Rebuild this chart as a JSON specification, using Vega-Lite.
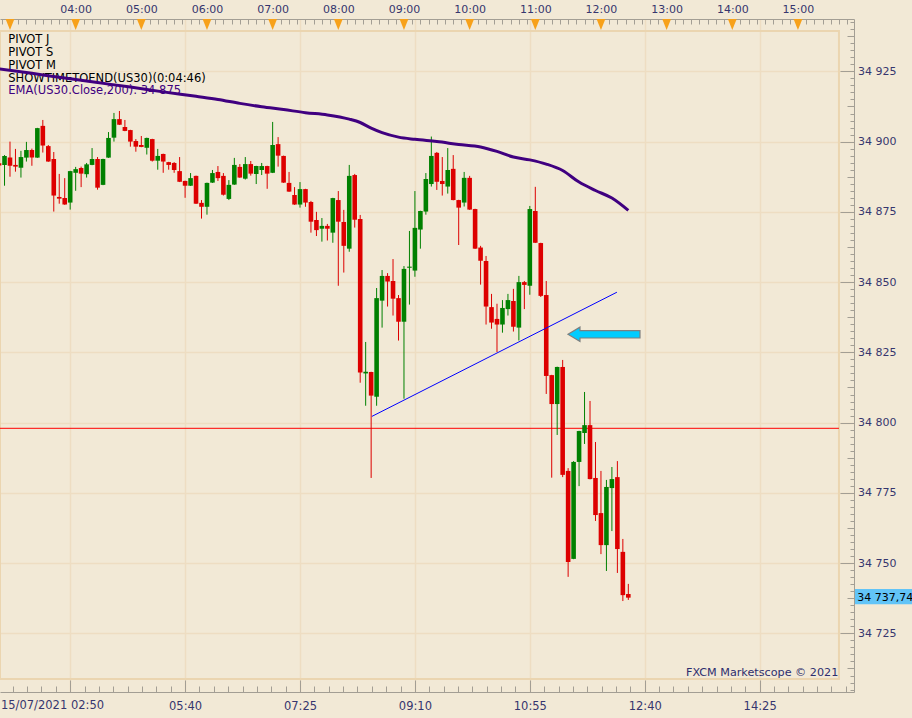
{
  "$schema": "https://vega.github.io/schema/vega-lite/v6.json",
  "width": 854,
  "height": 673,
  "autosize": "none",
  "padding": {"left": 0, "top": 19, "right": 58, "bottom": 26},
  "background": "#F2E9D6",
  "view": {"stroke": null},
  "config": {
    "axis": {"labelFont": "DejaVu Sans", "labelFontSize": 11, "labelColor": "#36366E", "domainColor": "#A39E94", "tickColor": "#A39E94", "domainWidth": 1, "tickWidth": 1, "labelOverlap": false, "labelFlush": false, "labelBound": false, "gridColor": "#EEDDC2", "gridWidth": 1.5}
  },
  "datasets": {
    "candles": [
      {"t":"2021-07-15T02:50","o":34892.3,"h":34893.0,"l":34891.0,"c":34891.5},
      {"t":"2021-07-15T02:55","o":34891.7,"h":34895.2,"l":34884.3,"c":34894.9},
      {"t":"2021-07-15T03:00","o":34894.3,"h":34900.0,"l":34887.5,"c":34891.4},
      {"t":"2021-07-15T03:05","o":34891.7,"h":34897.4,"l":34889.3,"c":34891.1},
      {"t":"2021-07-15T03:10","o":34890.7,"h":34896.7,"l":34887.2,"c":34894.5},
      {"t":"2021-07-15T03:15","o":34894.3,"h":34899.9,"l":34892.9,"c":34897.0},
      {"t":"2021-07-15T03:20","o":34897.0,"h":34897.5,"l":34891.4,"c":34894.3},
      {"t":"2021-07-15T03:25","o":34894.3,"h":34904.9,"l":34894.2,"c":34904.8},
      {"t":"2021-07-15T03:30","o":34905.6,"h":34907.7,"l":34896.1,"c":34898.6},
      {"t":"2021-07-15T03:35","o":34898.4,"h":34898.8,"l":34892.8,"c":34892.9},
      {"t":"2021-07-15T03:40","o":34893.8,"h":34896.3,"l":34875.1,"c":34880.8},
      {"t":"2021-07-15T03:45","o":34880.3,"h":34888.5,"l":34877.9,"c":34879.7},
      {"t":"2021-07-15T03:50","o":34879.9,"h":34887.0,"l":34877.5,"c":34877.6},
      {"t":"2021-07-15T03:55","o":34878.3,"h":34889.6,"l":34875.8,"c":34889.5},
      {"t":"2021-07-15T04:00","o":34888.9,"h":34891.0,"l":34882.5,"c":34890.2},
      {"t":"2021-07-15T04:05","o":34890.6,"h":34891.1,"l":34883.8,"c":34888.6},
      {"t":"2021-07-15T04:10","o":34888.4,"h":34892.4,"l":34887.2,"c":34891.9},
      {"t":"2021-07-15T04:15","o":34891.7,"h":34897.7,"l":34891.6,"c":34893.8},
      {"t":"2021-07-15T04:20","o":34893.8,"h":34894.5,"l":34882.9,"c":34883.6},
      {"t":"2021-07-15T04:25","o":34884.6,"h":34893.9,"l":34884.5,"c":34893.8},
      {"t":"2021-07-15T04:30","o":34894.3,"h":34903.4,"l":34894.2,"c":34901.3},
      {"t":"2021-07-15T04:35","o":34901.4,"h":34910.2,"l":34900.0,"c":34908.0},
      {"t":"2021-07-15T04:40","o":34908.0,"h":34910.9,"l":34905.9,"c":34906.0},
      {"t":"2021-07-15T04:45","o":34905.2,"h":34907.7,"l":34903.7,"c":34903.8},
      {"t":"2021-07-15T04:50","o":34904.1,"h":34904.2,"l":34898.2,"c":34900.0},
      {"t":"2021-07-15T04:55","o":34900.2,"h":34900.9,"l":34896.4,"c":34898.2},
      {"t":"2021-07-15T05:00","o":34898.8,"h":34902.0,"l":34898.0,"c":34898.1},
      {"t":"2021-07-15T05:05","o":34897.8,"h":34901.4,"l":34895.4,"c":34901.3},
      {"t":"2021-07-15T05:10","o":34900.9,"h":34901.0,"l":34892.9,"c":34893.2},
      {"t":"2021-07-15T05:15","o":34893.2,"h":34897.4,"l":34890.0,"c":34894.9},
      {"t":"2021-07-15T05:20","o":34895.6,"h":34895.7,"l":34888.9,"c":34892.9},
      {"t":"2021-07-15T05:25","o":34892.7,"h":34892.8,"l":34890.0,"c":34891.7},
      {"t":"2021-07-15T05:30","o":34892.4,"h":34892.7,"l":34888.9,"c":34889.9},
      {"t":"2021-07-15T05:35","o":34889.5,"h":34894.5,"l":34885.6,"c":34885.7},
      {"t":"2021-07-15T05:40","o":34886.0,"h":34886.1,"l":34880.0,"c":34884.3},
      {"t":"2021-07-15T05:45","o":34884.3,"h":34888.8,"l":34884.2,"c":34887.0},
      {"t":"2021-07-15T05:50","o":34887.8,"h":34887.9,"l":34877.8,"c":34877.9},
      {"t":"2021-07-15T05:55","o":34878.2,"h":34879.2,"l":34872.6,"c":34876.8},
      {"t":"2021-07-15T06:00","o":34876.8,"h":34885.4,"l":34874.0,"c":34885.3},
      {"t":"2021-07-15T06:05","o":34885.4,"h":34889.9,"l":34885.3,"c":34888.8},
      {"t":"2021-07-15T06:10","o":34889.2,"h":34891.3,"l":34886.0,"c":34887.0},
      {"t":"2021-07-15T06:15","o":34887.8,"h":34888.8,"l":34880.8,"c":34881.1},
      {"t":"2021-07-15T06:20","o":34879.6,"h":34886.3,"l":34879.2,"c":34884.6},
      {"t":"2021-07-15T06:25","o":34884.7,"h":34894.2,"l":34884.6,"c":34891.7},
      {"t":"2021-07-15T06:30","o":34891.0,"h":34892.0,"l":34887.1,"c":34887.2},
      {"t":"2021-07-15T06:35","o":34886.8,"h":34894.5,"l":34886.5,"c":34892.0},
      {"t":"2021-07-15T06:40","o":34892.0,"h":34893.1,"l":34887.9,"c":34888.6},
      {"t":"2021-07-15T06:45","o":34888.5,"h":34891.4,"l":34884.9,"c":34891.3},
      {"t":"2021-07-15T06:50","o":34889.9,"h":34892.4,"l":34888.1,"c":34891.3},
      {"t":"2021-07-15T06:55","o":34891.3,"h":34891.4,"l":34883.2,"c":34888.6},
      {"t":"2021-07-15T07:00","o":34888.9,"h":34907.0,"l":34888.8,"c":34898.8},
      {"t":"2021-07-15T07:05","o":34899.1,"h":34901.6,"l":34891.1,"c":34895.0},
      {"t":"2021-07-15T07:10","o":34894.9,"h":34895.0,"l":34885.3,"c":34885.4},
      {"t":"2021-07-15T07:15","o":34885.3,"h":34889.2,"l":34882.1,"c":34882.2},
      {"t":"2021-07-15T07:20","o":34881.0,"h":34883.8,"l":34877.5,"c":34877.6},
      {"t":"2021-07-15T07:25","o":34877.6,"h":34885.6,"l":34876.5,"c":34883.1},
      {"t":"2021-07-15T07:30","o":34883.1,"h":34883.2,"l":34876.8,"c":34878.3},
      {"t":"2021-07-15T07:35","o":34878.5,"h":34878.9,"l":34867.6,"c":34871.5},
      {"t":"2021-07-15T07:40","o":34872.1,"h":34875.0,"l":34866.4,"c":34868.5},
      {"t":"2021-07-15T07:45","o":34869.0,"h":34872.8,"l":34864.4,"c":34870.0},
      {"t":"2021-07-15T07:50","o":34870.0,"h":34870.7,"l":34864.8,"c":34869.0},
      {"t":"2021-07-15T07:55","o":34867.6,"h":34880.0,"l":34864.0,"c":34879.9},
      {"t":"2021-07-15T08:00","o":34879.2,"h":34882.4,"l":34848.7,"c":34871.5},
      {"t":"2021-07-15T08:05","o":34871.4,"h":34875.7,"l":34853.4,"c":34862.9},
      {"t":"2021-07-15T08:10","o":34861.9,"h":34891.7,"l":34860.8,"c":34887.8},
      {"t":"2021-07-15T08:15","o":34888.1,"h":34888.5,"l":34869.4,"c":34872.2},
      {"t":"2021-07-15T08:20","o":34872.5,"h":34873.9,"l":34814.2,"c":34817.8},
      {"t":"2021-07-15T08:25","o":34817.5,"h":34828.7,"l":34806.0,"c":34818.1},
      {"t":"2021-07-15T08:30","o":34818.0,"h":34818.1,"l":34780.3,"c":34809.6},
      {"t":"2021-07-15T08:35","o":34809.2,"h":34847.9,"l":34806.0,"c":34844.3},
      {"t":"2021-07-15T08:40","o":34843.4,"h":34854.3,"l":34833.8,"c":34852.2},
      {"t":"2021-07-15T08:45","o":34852.2,"h":34853.2,"l":34841.3,"c":34850.2},
      {"t":"2021-07-15T08:50","o":34850.4,"h":34858.2,"l":34838.1,"c":34844.1},
      {"t":"2021-07-15T08:55","o":34844.3,"h":34845.4,"l":34829.2,"c":34835.9},
      {"t":"2021-07-15T09:00","o":34835.9,"h":34855.7,"l":34808.5,"c":34854.7},
      {"t":"2021-07-15T09:05","o":34855.1,"h":34868.2,"l":34842.0,"c":34855.5},
      {"t":"2021-07-15T09:10","o":34854.1,"h":34882.4,"l":34851.9,"c":34869.3},
      {"t":"2021-07-15T09:15","o":34868.7,"h":34875.4,"l":34861.9,"c":34875.3},
      {"t":"2021-07-15T09:20","o":34875.1,"h":34888.8,"l":34874.0,"c":34886.7},
      {"t":"2021-07-15T09:25","o":34884.9,"h":34901.8,"l":34884.0,"c":34894.9},
      {"t":"2021-07-15T09:30","o":34896.0,"h":34896.3,"l":34882.8,"c":34885.7},
      {"t":"2021-07-15T09:35","o":34886.0,"h":34894.5,"l":34880.8,"c":34884.9},
      {"t":"2021-07-15T09:40","o":34884.0,"h":34897.7,"l":34881.5,"c":34889.9},
      {"t":"2021-07-15T09:45","o":34890.3,"h":34895.2,"l":34879.1,"c":34879.2},
      {"t":"2021-07-15T09:50","o":34879.2,"h":34879.3,"l":34863.2,"c":34876.5},
      {"t":"2021-07-15T09:55","o":34878.3,"h":34889.2,"l":34876.9,"c":34887.1},
      {"t":"2021-07-15T10:00","o":34887.1,"h":34887.8,"l":34875.7,"c":34875.8},
      {"t":"2021-07-15T10:05","o":34876.0,"h":34876.1,"l":34861.8,"c":34861.9},
      {"t":"2021-07-15T10:10","o":34862.3,"h":34862.9,"l":34849.1,"c":34857.6},
      {"t":"2021-07-15T10:15","o":34857.5,"h":34859.3,"l":34834.9,"c":34841.3},
      {"t":"2021-07-15T10:20","o":34841.1,"h":34845.8,"l":34833.4,"c":34835.6},
      {"t":"2021-07-15T10:25","o":34836.9,"h":34842.3,"l":34825.1,"c":34834.9},
      {"t":"2021-07-15T10:30","o":34834.9,"h":34843.6,"l":34832.0,"c":34840.8},
      {"t":"2021-07-15T10:35","o":34840.4,"h":34845.8,"l":34838.1,"c":34843.6},
      {"t":"2021-07-15T10:40","o":34843.3,"h":34847.6,"l":34832.4,"c":34834.1},
      {"t":"2021-07-15T10:45","o":34833.8,"h":34852.2,"l":34829.2,"c":34850.0},
      {"t":"2021-07-15T10:50","o":34850.0,"h":34850.4,"l":34840.4,"c":34849.0},
      {"t":"2021-07-15T10:55","o":34848.7,"h":34877.1,"l":34845.5,"c":34876.0},
      {"t":"2021-07-15T11:00","o":34875.3,"h":34883.9,"l":34863.9,"c":34864.0},
      {"t":"2021-07-15T11:05","o":34863.9,"h":34864.0,"l":34844.7,"c":34845.1},
      {"t":"2021-07-15T11:10","o":34845.4,"h":34850.4,"l":34810.2,"c":34816.6},
      {"t":"2021-07-15T11:15","o":34816.9,"h":34817.0,"l":34780.4,"c":34806.6},
      {"t":"2021-07-15T11:20","o":34806.6,"h":34819.9,"l":34795.6,"c":34819.8},
      {"t":"2021-07-15T11:25","o":34819.8,"h":34822.3,"l":34780.6,"c":34781.4},
      {"t":"2021-07-15T11:30","o":34782.8,"h":34783.8,"l":34745.1,"c":34750.4},
      {"t":"2021-07-15T11:35","o":34751.5,"h":34786.3,"l":34751.4,"c":34786.0},
      {"t":"2021-07-15T11:40","o":34786.0,"h":34797.1,"l":34777.4,"c":34797.0},
      {"t":"2021-07-15T11:45","o":34796.3,"h":34810.9,"l":34792.4,"c":34799.1},
      {"t":"2021-07-15T11:50","o":34799.1,"h":34807.7,"l":34779.8,"c":34779.9},
      {"t":"2021-07-15T11:55","o":34780.3,"h":34793.1,"l":34765.0,"c":34767.1},
      {"t":"2021-07-15T12:00","o":34767.8,"h":34782.8,"l":34753.2,"c":34756.4},
      {"t":"2021-07-15T12:05","o":34756.4,"h":34779.6,"l":34747.2,"c":34777.1},
      {"t":"2021-07-15T12:10","o":34776.7,"h":34784.2,"l":34761.4,"c":34779.9},
      {"t":"2021-07-15T12:15","o":34780.6,"h":34786.3,"l":34746.5,"c":34755.0},
      {"t":"2021-07-15T12:20","o":34754.0,"h":34758.6,"l":34736.5,"c":34738.6},
      {"t":"2021-07-15T12:25","o":34739.0,"h":34742.6,"l":34736.9,"c":34737.7}
    ],
    "ema": [
      {"t":"2021-07-15T02:50","ema":34925.9},
      {"t":"2021-07-15T03:20","ema":34924.3},
      {"t":"2021-07-15T03:50","ema":34922.6},
      {"t":"2021-07-15T04:20","ema":34921.0},
      {"t":"2021-07-15T04:50","ema":34919.4},
      {"t":"2021-07-15T05:20","ema":34917.7},
      {"t":"2021-07-15T05:50","ema":34916.1},
      {"t":"2021-07-15T06:10","ema":34915.0},
      {"t":"2021-07-15T06:30","ema":34913.6},
      {"t":"2021-07-15T06:50","ema":34912.4},
      {"t":"2021-07-15T07:10","ema":34911.4},
      {"t":"2021-07-15T07:30","ema":34910.3},
      {"t":"2021-07-15T07:50","ema":34909.5},
      {"t":"2021-07-15T08:10","ema":34908.0},
      {"t":"2021-07-15T08:20","ema":34906.8},
      {"t":"2021-07-15T08:30","ema":34904.8},
      {"t":"2021-07-15T08:40","ema":34903.2},
      {"t":"2021-07-15T08:55","ema":34901.6},
      {"t":"2021-07-15T09:10","ema":34900.8},
      {"t":"2021-07-15T09:30","ema":34900.0},
      {"t":"2021-07-15T09:50","ema":34899.0},
      {"t":"2021-07-15T10:10","ema":34898.1},
      {"t":"2021-07-15T10:25","ema":34896.5},
      {"t":"2021-07-15T10:40","ema":34894.5},
      {"t":"2021-07-15T10:55","ema":34893.5},
      {"t":"2021-07-15T11:10","ema":34892.0},
      {"t":"2021-07-15T11:25","ema":34889.7},
      {"t":"2021-07-15T11:40","ema":34885.6},
      {"t":"2021-07-15T11:55","ema":34882.6},
      {"t":"2021-07-15T12:10","ema":34879.9},
      {"t":"2021-07-15T12:25","ema":34875.5}
    ]
  },
  "resolve": {"axis": {"x": "independent", "y": "independent"}},
  "layer": [
    {
      "data": {"values": [{}]},
      "mark": {"type": "rect", "filled": false, "stroke": "#EBD5B0", "strokeWidth": 2},
      "encoding": {
        "x": {"datum": {"year":2021,"month":7,"date":15,"hours":2,"minutes":50,"seconds":52}, "type": "temporal", "title": null,
          "scale": {"domain": [{"year":2021,"month":7,"date":15,"hours":2,"minutes":50,"seconds":52},{"year":2021,"month":7,"date":15,"hours":15,"minutes":51,"seconds":13}], "nice": false, "padding": 0},
          "axis": {
            "orient": "bottom",
            "values": {"expr": "sequence(time(datetime(2021,6,15,2,49,22,500)), time(datetime(2021,6,15,15,52,0)), 787500)"},
            "labelExpr": "((hours(datum.value)*60+minutes(datum.value)-235)%105==0 && seconds(datum.value)==0 && milliseconds(datum.value)==0 && datum.value > time(datetime(2021,6,15,4,0))) ? timeFormat(datum.value,'%H:%M') : ''",
            "tickSize": {"condition": {"test": "(hours(datum.value)*60+minutes(datum.value)-235)%105==0 && seconds(datum.value)==0 && milliseconds(datum.value)==0", "value": -12}, "value": -6},
            "labelPadding": {"condition": {"test": "(hours(datum.value)*60+minutes(datum.value)-235)%105==0 && seconds(datum.value)==0 && milliseconds(datum.value)==0", "value": 26}, "value": 14},
            "labelBaseline": "middle",
            "labelAlign": "center",
            "labelFontSize": 11.5,
            "grid": true,
            "gridOpacity": {"condition": {"test": "(hours(datum.value)*60+minutes(datum.value)-235)%105==0 && seconds(datum.value)==0 && milliseconds(datum.value)==0", "value": 1}, "value": 0},
            "title": null
          }
        },
        "x2": {"datum": {"year":2021,"month":7,"date":15,"hours":15,"minutes":37,"seconds":28}},
        "y": {"datum": 34939.36, "type": "quantitative", "title": null,
          "scale": {"domain": [34704.13, 34943.63], "nice": false, "zero": false, "padding": 0},
          "axis": {
            "orient": "right",
            "values": [34705, 34707.5, 34710, 34712.5, 34715, 34717.5, 34720, 34722.5, 34725, 34727.5, 34730, 34732.5, 34735, 34737.5, 34740, 34742.5, 34745, 34747.5, 34750, 34752.5, 34755, 34757.5, 34760, 34762.5, 34765, 34767.5, 34770, 34772.5, 34775, 34777.5, 34780, 34782.5, 34785, 34787.5, 34790, 34792.5, 34795, 34797.5, 34800, 34802.5, 34805, 34807.5, 34810, 34812.5, 34815, 34817.5, 34820, 34822.5, 34825, 34827.5, 34830, 34832.5, 34835, 34837.5, 34840, 34842.5, 34845, 34847.5, 34850, 34852.5, 34855, 34857.5, 34860, 34862.5, 34865, 34867.5, 34870, 34872.5, 34875, 34877.5, 34880, 34882.5, 34885, 34887.5, 34890, 34892.5, 34895, 34897.5, 34900, 34902.5, 34905, 34907.5, 34910, 34912.5, 34915, 34917.5, 34920, 34922.5, 34925, 34927.5, 34930, 34932.5, 34935, 34937.5, 34940, 34942.5],
            "labelExpr": "datum.value % 25 == 0 ? replace(format(datum.value, ',d'), ',', ' ') : ''",
            "tickSize": {"condition": [{"test": "datum.value % 25 == 0", "value": -14}, {"test": "datum.value % 12.5 == 0", "value": -7}], "value": -4},
            "labelPadding": 17.5,
            "labelAlign": "left",
            "labelBaseline": "middle",
            "grid": true,
            "gridOpacity": {"condition": {"test": "datum.value % 25 == 0", "value": 1}, "value": 0},
            "title": null
          }
        },
        "y2": {"datum": 34708.75}
      }
    },
    {
      "data": {"values": [{"from": "2021-07-15T02:50:52", "to": "2021-07-15T15:37:28", "level": 34797.97}]},
      "mark": {"type": "rule", "stroke": "#FF0000", "strokeWidth": 1},
      "encoding": {
        "x": {"field": "from", "type": "temporal", "title": null, "axis": null,
          "scale": {"domain": [{"year":2021,"month":7,"date":15,"hours":2,"minutes":50,"seconds":52},{"year":2021,"month":7,"date":15,"hours":15,"minutes":51,"seconds":13}], "nice": false, "padding": 0}},
        "x2": {"field": "to"},
        "y": {"field": "level", "type": "quantitative", "title": null, "axis": null,
          "scale": {"domain": [34704.13, 34943.63], "nice": false, "zero": false, "padding": 0}}
      }
    },
    {
      "data": {"name": "candles"},
      "mark": {"type": "rule", "strokeWidth": 1},
      "encoding": {
        "x": {"field": "t", "type": "temporal", "title": null, "axis": null,
          "scale": {"domain": [{"year":2021,"month":7,"date":15,"hours":2,"minutes":50,"seconds":52},{"year":2021,"month":7,"date":15,"hours":15,"minutes":51,"seconds":13}], "nice": false, "padding": 0}},
        "y": {"field": "l", "type": "quantitative", "title": null, "axis": null,
          "scale": {"domain": [34704.13, 34943.63], "nice": false, "zero": false, "padding": 0}},
        "y2": {"field": "h"},
        "color": {"condition": {"test": "datum.c > datum.o", "value": "#008000"}, "value": "#DD0000"}
      }
    },
    {
      "data": {"name": "candles"},
      "mark": {"type": "bar", "width": 4.6},
      "encoding": {
        "x": {"field": "t", "type": "temporal", "title": null, "axis": null,
          "scale": {"domain": [{"year":2021,"month":7,"date":15,"hours":2,"minutes":50,"seconds":52},{"year":2021,"month":7,"date":15,"hours":15,"minutes":51,"seconds":13}], "nice": false, "padding": 0}},
        "y": {"field": "o", "type": "quantitative", "title": null, "axis": null,
          "scale": {"domain": [34704.13, 34943.63], "nice": false, "zero": false, "padding": 0}},
        "y2": {"field": "c"},
        "color": {"condition": {"test": "datum.c > datum.o", "value": "#008000"}, "value": "#DD0000"}
      }
    },
    {
      "data": {"values": [{}]},
      "mark": {"type": "text", "text": ["PIVOT J", "PIVOT S", "PIVOT M", "SHOWTIMETOEND(US30)(0:04:46)"], "align": "left", "baseline": "top", "lineHeight": 13, "font": "DejaVu Sans", "fontSize": 11.5, "fill": "#000000"},
      "encoding": {
        "x": {"datum": {"year":2021,"month":7,"date":15,"hours":2,"minutes":58,"seconds":27}, "type": "temporal", "title": null, "axis": null,
          "scale": {"domain": [{"year":2021,"month":7,"date":15,"hours":2,"minutes":50,"seconds":52},{"year":2021,"month":7,"date":15,"hours":15,"minutes":51,"seconds":13}], "nice": false, "padding": 0}},
        "y": {"datum": 34938.15, "type": "quantitative", "title": null, "axis": null,
          "scale": {"domain": [34704.13, 34943.63], "nice": false, "zero": false, "padding": 0}}
      }
    },
    {
      "data": {"values": [{}]},
      "mark": {"type": "text", "text": "EMA(US30.Close,200): 34 875", "align": "left", "baseline": "middle", "font": "DejaVu Sans", "fontSize": 11.5, "fill": "#400080"},
      "encoding": {
        "x": {"datum": {"year":2021,"month":7,"date":15,"hours":2,"minutes":58,"seconds":27}, "type": "temporal", "title": null, "axis": null,
          "scale": {"domain": [{"year":2021,"month":7,"date":15,"hours":2,"minutes":50,"seconds":52},{"year":2021,"month":7,"date":15,"hours":15,"minutes":51,"seconds":13}], "nice": false, "padding": 0}},
        "y": {"datum": 34918.11, "type": "quantitative", "title": null, "axis": null,
          "scale": {"domain": [34704.13, 34943.63], "nice": false, "zero": false, "padding": 0}}
      }
    },
    {
      "data": {"name": "ema"},
      "mark": {"type": "line", "stroke": "#400080", "strokeWidth": 3, "interpolate": "monotone"},
      "encoding": {
        "x": {"field": "t", "type": "temporal", "title": null, "axis": null,
          "scale": {"domain": [{"year":2021,"month":7,"date":15,"hours":2,"minutes":50,"seconds":52},{"year":2021,"month":7,"date":15,"hours":15,"minutes":51,"seconds":13}], "nice": false, "padding": 0}},
        "y": {"field": "ema", "type": "quantitative", "title": null, "axis": null,
          "scale": {"domain": [34704.13, 34943.63], "nice": false, "zero": false, "padding": 0}}
      }
    },
    {
      "data": {"values": [{"t": "2021-07-15T08:30:40", "p": 34802.2}, {"t": "2021-07-15T12:14:35", "p": 34846.4}]},
      "mark": {"type": "line", "stroke": "#0000FF", "strokeWidth": 1},
      "encoding": {
        "x": {"field": "t", "type": "temporal", "title": null, "axis": null,
          "scale": {"domain": [{"year":2021,"month":7,"date":15,"hours":2,"minutes":50,"seconds":52},{"year":2021,"month":7,"date":15,"hours":15,"minutes":51,"seconds":13}], "nice": false, "padding": 0}},
        "y": {"field": "p", "type": "quantitative", "title": null, "axis": null,
          "scale": {"domain": [34704.13, 34943.63], "nice": false, "zero": false, "padding": 0}}
      }
    },
    {
      "data": {"values": [{"t": "2021-07-15T12:02:46", "p": 34831.42}]},
      "mark": {"type": "point", "shape": "M -1 0 L -0.667 -0.2 L -0.667 -0.103 L 1 -0.103 L 1 0.103 L -0.667 0.103 L -0.667 0.2 Z", "size": 5184, "filled": true, "fill": "#00CCFF", "stroke": "#7F7F7F", "strokeWidth": 1.2, "opacity": 1},
      "encoding": {
        "x": {"field": "t", "type": "temporal", "title": null, "axis": null,
          "scale": {"domain": [{"year":2021,"month":7,"date":15,"hours":2,"minutes":50,"seconds":52},{"year":2021,"month":7,"date":15,"hours":15,"minutes":51,"seconds":13}], "nice": false, "padding": 0}},
        "y": {"field": "p", "type": "quantitative", "title": null, "axis": null,
          "scale": {"domain": [34704.13, 34943.63], "nice": false, "zero": false, "padding": 0}}
      }
    },
    {
      "data": {"values": [
        {"t": "2021-07-15T03:00"}, {"t": "2021-07-15T04:00"}, {"t": "2021-07-15T05:00"}, {"t": "2021-07-15T06:00"},
        {"t": "2021-07-15T07:00"}, {"t": "2021-07-15T08:00"}, {"t": "2021-07-15T09:00"}, {"t": "2021-07-15T10:00"},
        {"t": "2021-07-15T11:00"}, {"t": "2021-07-15T12:00"}, {"t": "2021-07-15T13:00"}, {"t": "2021-07-15T14:00"},
        {"t": "2021-07-15T15:00"}
      ]},
      "mark": {"type": "point", "shape": "M -0.8 -1 L 0.8 -1 L 0 1 Z", "size": 121, "filled": true, "fill": "#F7A11A", "opacity": 1},
      "encoding": {
        "x": {"field": "t", "type": "temporal", "title": null,
          "scale": {"domain": [{"year":2021,"month":7,"date":15,"hours":2,"minutes":50,"seconds":52},{"year":2021,"month":7,"date":15,"hours":15,"minutes":51,"seconds":13}], "nice": false, "padding": 0},
          "axis": {
            "orient": "top",
            "values": {"expr": "sequence(time(datetime(2021,6,15,2,52,30)), time(datetime(2021,6,15,15,52,0)), 450000)"},
            "labelExpr": "minutes(datum.value)==0 && seconds(datum.value)==0 && hours(datum.value)>=4 ? timeFormat(datum.value,'%H:%M') : ''",
            "tickSize": -5,
            "labelPadding": 15,
            "labelBaseline": "middle",
            "labelAlign": "center",
            "grid": false,
            "title": null
          }
        },
        "y": {"datum": 34941.67, "type": "quantitative", "title": null, "axis": null,
          "scale": {"domain": [34704.13, 34943.63], "nice": false, "zero": false, "padding": 0}}
      }
    },
    {
      "data": {"values": [{}]},
      "mark": {"type": "text", "text": "15/07/2021 02:50", "align": "left", "baseline": "middle", "font": "DejaVu Sans", "fontSize": 11.5, "fill": "#36366E"},
      "encoding": {
        "x": {"datum": {"year":2021,"month":7,"date":15,"hours":2,"minutes":51,"seconds":45}, "type": "temporal", "title": null, "axis": null,
          "scale": {"domain": [{"year":2021,"month":7,"date":15,"hours":2,"minutes":50,"seconds":52},{"year":2021,"month":7,"date":15,"hours":15,"minutes":51,"seconds":13}], "nice": false, "padding": 0}},
        "y": {"datum": 34699.15, "type": "quantitative", "title": null, "axis": null,
          "scale": {"domain": [34704.13, 34943.63], "nice": false, "zero": false, "padding": 0}}
      }
    },
    {
      "data": {"values": [{}]},
      "mark": {"type": "text", "text": "FXCM Marketscope © 2021", "align": "right", "baseline": "middle", "font": "DejaVu Sans", "fontSize": 11.2, "fill": "#2E2E6E"},
      "encoding": {
        "x": {"datum": {"year":2021,"month":7,"date":15,"hours":15,"minutes":36,"seconds":52}, "type": "temporal", "title": null, "axis": null,
          "scale": {"domain": [{"year":2021,"month":7,"date":15,"hours":2,"minutes":50,"seconds":52},{"year":2021,"month":7,"date":15,"hours":15,"minutes":51,"seconds":13}], "nice": false, "padding": 0}},
        "y": {"datum": 34710.78, "type": "quantitative", "title": null, "axis": null,
          "scale": {"domain": [34704.13, 34943.63], "nice": false, "zero": false, "padding": 0}}
      }
    },
    {
      "data": {"values": [{}]},
      "mark": {"type": "rect", "fill": "#62C4F7"},
      "encoding": {
        "x": {"datum": {"year":2021,"month":7,"date":15,"hours":15,"minutes":52,"seconds":7}, "type": "temporal", "title": null, "axis": null,
          "scale": {"domain": [{"year":2021,"month":7,"date":15,"hours":2,"minutes":50,"seconds":52},{"year":2021,"month":7,"date":15,"hours":15,"minutes":51,"seconds":13}], "nice": false, "padding": 0}},
        "x2": {"datum": {"year":2021,"month":7,"date":15,"hours":16,"minutes":52,"seconds":0}},
        "y": {"datum": 34740.78, "type": "quantitative", "title": null, "axis": null,
          "scale": {"domain": [34704.13, 34943.63], "nice": false, "zero": false, "padding": 0}},
        "y2": {"datum": 34735.34}
      }
    },
    {
      "data": {"values": [{"last": "34 737,74"}]},
      "mark": {"type": "text", "align": "left", "baseline": "middle", "font": "DejaVu Sans", "fontSize": 11, "fill": "#000000"},
      "encoding": {
        "text": {"field": "last"},
        "x": {"datum": {"year":2021,"month":7,"date":15,"hours":15,"minutes":54,"seconds":10}, "type": "temporal", "title": null, "axis": null,
          "scale": {"domain": [{"year":2021,"month":7,"date":15,"hours":2,"minutes":50,"seconds":52},{"year":2021,"month":7,"date":15,"hours":15,"minutes":51,"seconds":13}], "nice": false, "padding": 0}},
        "y": {"datum": 34737.74, "type": "quantitative", "title": null, "axis": null,
          "scale": {"domain": [34704.13, 34943.63], "nice": false, "zero": false, "padding": 0}}
      }
    }
  ]
}
